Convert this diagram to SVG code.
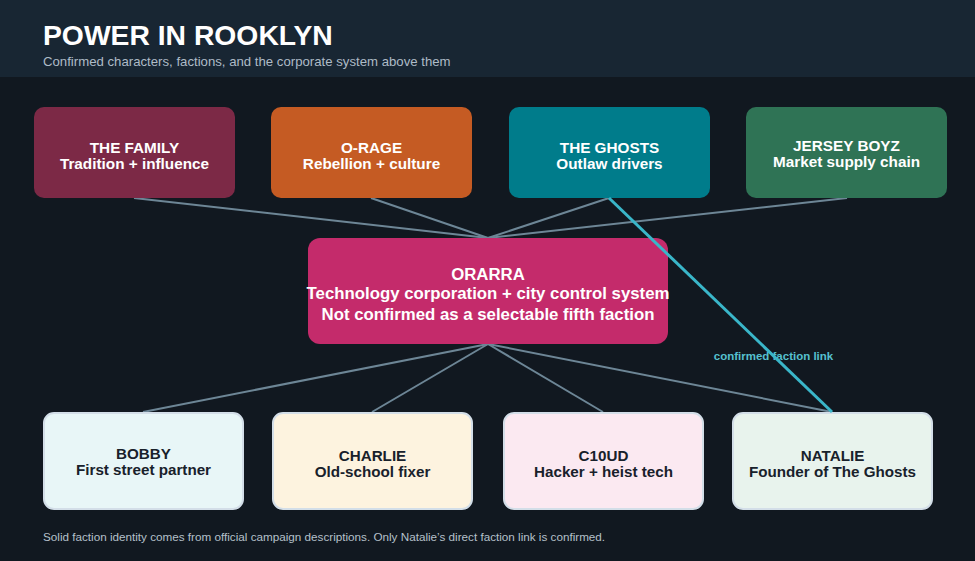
<svg xmlns="http://www.w3.org/2000/svg" width="975" height="561" viewBox="0 0 975 561">
<style>
text{font-family:"Liberation Sans",Arial,sans-serif}
.nt{font-size:15.3px;font-weight:bold;fill:#ffffff;text-anchor:middle}
.pt{font-size:15.2px;font-weight:bold;fill:#18212b;text-anchor:middle}
.ot{font-size:16.8px;font-weight:bold;fill:#ffffff;text-anchor:middle}
.pc{stroke:#d3dee8;stroke-width:2}
.gl{stroke:#6d8696;stroke-width:2;fill:none}
.cl{stroke:#3ab6c9;stroke-width:3;fill:none}
</style>
<rect x="0" y="0" width="975" height="561" fill="#111820"/>
<rect x="0" y="0" width="975" height="77" fill="#182633"/>
<text x="43" y="45" font-size="28.3" font-weight="bold" fill="#ffffff">POWER IN ROOKLYN</text>
<text x="43" y="65.5" font-size="13.2" fill="#aebbc7">Confirmed characters, factions, and the corporate system above them</text>

<g id="connectors">
<line class="gl" x1="134" y1="198" x2="488" y2="238"/>
<line class="gl" x1="371" y1="198" x2="488" y2="238"/>
<line class="gl" x1="609" y1="198" x2="488" y2="238"/>
<line class="gl" x1="847" y1="198" x2="488" y2="238"/>
<line class="gl" x1="488" y1="344" x2="143" y2="412"/>
<line class="gl" x1="488" y1="344" x2="372" y2="412"/>
<line class="gl" x1="488" y1="344" x2="603" y2="412"/>
<line class="gl" x1="488" y1="344" x2="832" y2="412"/>
</g>

<g id="the-family">
<rect x="34" y="107" width="201" height="91" rx="10" fill="#7c2946"/>
<text class="nt" x="134.5" y="152.5">THE FAMILY</text>
<text class="nt" x="134.5" y="168.5">Tradition + influence</text>
</g>
<g id="o-rage">
<rect x="271" y="107" width="201" height="91" rx="10" fill="#c55b23"/>
<text class="nt" x="371.5" y="152.5">O-RAGE</text>
<text class="nt" x="371.5" y="168.5">Rebellion + culture</text>
</g>
<g id="the-ghosts">
<rect x="509" y="107" width="201" height="91" rx="10" fill="#007c8b"/>
<text class="nt" x="609.5" y="153">THE GHOSTS</text>
<text class="nt" x="609.5" y="169">Outlaw drivers</text>
</g>
<g id="jersey-boyz">
<rect x="746" y="107" width="201" height="91" rx="10" fill="#2f7355"/>
<text class="nt" x="846.5" y="151">JERSEY BOYZ</text>
<text class="nt" x="846.5" y="167">Market supply chain</text>
</g>

<g id="orarra">
<rect x="308" y="238" width="360" height="106" rx="12" fill="#c42b6b"/>
<text class="ot" x="488" y="280">ORARRA</text>
<text class="ot" x="488" y="298.5">Technology corporation + city control system</text>
<text class="ot" x="488" y="319.5">Not confirmed as a selectable fifth faction</text>
</g>

<g id="bobby">
<rect class="pc" x="44" y="413" width="199" height="96" rx="10" fill="#e8f6f7"/>
<text class="pt" x="143.5" y="459">BOBBY</text>
<text class="pt" x="143.5" y="474.5">First street partner</text>
</g>
<g id="charlie">
<rect class="pc" x="273" y="413" width="199" height="96" rx="10" fill="#fdf3df"/>
<text class="pt" x="372.5" y="461">CHARLIE</text>
<text class="pt" x="372.5" y="477">Old-school fixer</text>
</g>
<g id="c10ud">
<rect class="pc" x="504" y="413" width="199" height="96" rx="10" fill="#fbe9f1"/>
<text class="pt" x="603.5" y="461">C10UD</text>
<text class="pt" x="603.5" y="477">Hacker + heist tech</text>
</g>
<g id="natalie">
<rect class="pc" x="733" y="413" width="199" height="96" rx="10" fill="#e8f3ed"/>
<text class="pt" x="832.5" y="461">NATALIE</text>
<text class="pt" x="832.5" y="477">Founder of The Ghosts</text>
</g>

<g id="faction-link">
<text x="773.5" y="360" font-size="11.5" font-weight="bold" fill="#56c0cf" text-anchor="middle">confirmed faction link</text>
<line class="cl" x1="609" y1="198" x2="832" y2="412"/>
</g>

<text x="43" y="541" font-size="11.7" fill="#b5c0ca">Solid faction identity comes from official campaign descriptions. Only Natalie’s direct faction link is confirmed.</text>
</svg>
